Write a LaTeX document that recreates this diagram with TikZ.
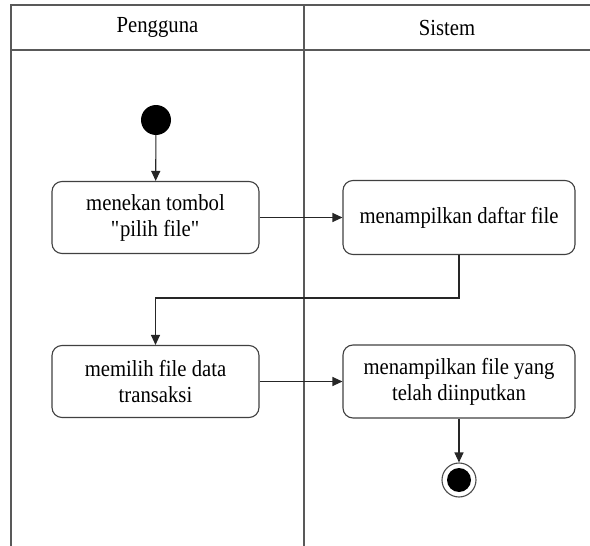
\documentclass[tikz,border=0pt]{standalone}
\usepackage{fontspec}
\setmainfont{Liberation Serif}[FakeStretch=0.9]
\usetikzlibrary{arrows.meta}
\begin{document}
\begin{tikzpicture}[x=1pt,y=-1pt,
  lane/.style={draw=black!65, line width=1.4pt},
  action/.style={draw=black!75, line width=1.1pt, rounded corners=10pt,
    align=center, inner sep=0pt, font=\fontsize{23}{26}\selectfont},
  lanehead/.style={font=\fontsize{23}{26}\selectfont},
  flow/.style={draw=black!85, line width=1.1pt, -{Triangle[length=10pt,width=9pt]}}]
  \useasboundingbox (0,0) rectangle (590,546);
  % swimlane frame
  \draw[lane] (590,5) -- (11,5) -- (11,546);
  \draw[lane] (11,50) -- (590,50);
  \draw[lane] (304,5) -- (304,546);
  \node[lanehead] (hUser) at (157.5,27.5) {Pengguna};
  \node[lanehead] (hSys) at (447,27.5) {Sistem};
  % start and end
  \node[circle, fill=black, minimum size=30pt, inner sep=0pt] (start) at (156,120) {};
  \node[circle, draw=black!70, line width=1.1pt, fill=white, minimum size=34pt, inner sep=0pt] (stop) at (459,480) {};
  \node[circle, fill=black, minimum size=24pt, inner sep=0pt] at (stop) {};
  % actions
  \node[action, minimum width=207pt, minimum height=72pt] (a1) at (155.5,217.5) {menekan tombol\\\textquotedbl pilih file\textquotedbl};
  \node[action, minimum width=232pt, minimum height=74pt] (a2) at (459,217.5) {menampilkan daftar file};
  \node[action, minimum width=207pt, minimum height=72pt] (a3) at (155.5,381.5) {memilih file data\\transaksi};
  \node[action, minimum width=232pt, minimum height=73pt] (a4) at (459,381.5) {menampilkan file yang\\telah diinputkan};
  \coordinate (b1) at (459,298);
  \coordinate (b2) at (155.5,298);
  % control flow
  \draw[flow] (start) -- (a1);
  \draw[flow] (a1) -- (a2);
  \draw[flow] (a2.south) -- (b1) -- (b2) -- (a3.north);
  \draw[flow] (a3) -- (a4);
  \draw[flow] (a4) -- (stop);
\end{tikzpicture}
\end{document}
